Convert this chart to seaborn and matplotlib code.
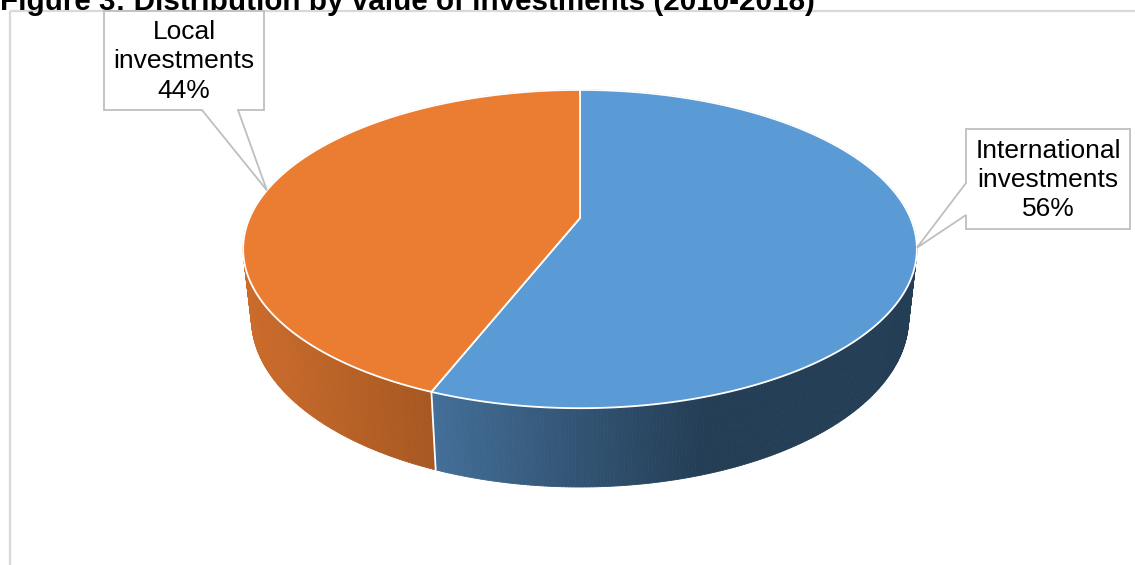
import numpy as np
import matplotlib
matplotlib.use("Agg")
import matplotlib.pyplot as plt
from matplotlib.patches import Polygon, PathPatch
from matplotlib.path import Path
from matplotlib.collections import PolyCollection
from matplotlib.colors import to_rgb
import seaborn as sns

# ---- data -------------------------------------------------------------
categories = ["International\ninvestments", "Local\ninvestments"]
shares = [56, 44]                      # percent of total investment value
face_colors = ["#5B9BD5", "#EA7D32"]
side_light = ["#44709A", "#CC6C2C"]
side_dark = ["#243E56", "#A85822"]
title = "Figure 3: Distribution by value of investments (2010-2018)"

sns.set_theme(style="white")
plt.rcParams["font.family"] = ["Liberation Sans", "DejaVu Sans"]

W, H = 1135, 565
fig = plt.figure(figsize=(W / 100, H / 100), dpi=100)
ax = fig.add_axes([0, 0, 1, 1])
ax.set_xlim(0, W)
ax.set_ylim(H, 0)
ax.axis("off")

# ---- perspective camera for the 3-D pie ---------------------------------
CX, CY = 580, 218          # screen position of the pie centre
FOCAL = 1500.0
DIST = 4.54
ELEV = np.radians(27.6)
THICK = 0.239              # slab thickness relative to radius


def project(r, phi, z):
    u = r * np.cos(phi)
    v = r * np.sin(phi)
    d = DIST + v * np.cos(ELEV) - z * np.sin(ELEV)
    x = CX + FOCAL * u / d
    y = CY - FOCAL * (v * np.sin(ELEV) + z * np.cos(ELEV)) / d
    return x, y


fracs = np.array(shares, dtype=float) / np.sum(shares)
bounds = np.pi / 2 - 2 * np.pi * np.concatenate([[0], np.cumsum(fracs)])

# side wall, drawn as thin strips from back to front
quads, qcolors, qkeys = [], [], []
for i in range(len(shares)):
    a0, a1 = bounds[i], bounds[i + 1]
    n = max(int(abs(a1 - a0) / np.radians(0.5)), 4)
    phis = np.linspace(a0, a1, n + 1)
    xt, yt = project(1.0, phis, 0.0)
    xb, yb = project(1.0, phis, -THICK)
    lo, hi = np.array(to_rgb(side_light[i])), np.array(to_rgb(side_dark[i]))
    xs_lo = {0: 425, 1: 243}[i]
    xs_hi = {0: 700, 1: 428}[i]
    for k in range(n):
        q = [(xt[k], yt[k]), (xt[k + 1], yt[k + 1]),
             (xb[k + 1], yb[k + 1]), (xb[k], yb[k])]
        xm = (xt[k] + xt[k + 1]) / 2
        t = np.clip((xm - xs_lo) / (xs_hi - xs_lo), 0, 1)
        quads.append(q)
        qcolors.append(lo + (hi - lo) * t)
        qkeys.append(np.sin((phis[k] + phis[k + 1]) / 2))

order = np.argsort(qkeys)[::-1]
pc = PolyCollection([quads[j] for j in order],
                    facecolors=[qcolors[j] for j in order],
                    edgecolors=[qcolors[j] for j in order],
                    linewidths=0.6, zorder=2)
ax.add_collection(pc)

# white seams on the front wall at slice boundaries
for b in bounds[:-1]:
    if np.sin(b) < 0:
        x0, y0 = project(1.0, b, 0.0)
        x1, y1 = project(1.0, b, -THICK)
        ax.plot([x0, x1], [y0, y1], color="white", lw=1.3, zorder=3)

# top faces
mids = []
for i in range(len(shares)):
    a0, a1 = bounds[i], bounds[i + 1]
    phis = np.linspace(a0, a1, 200)
    xt, yt = project(1.0, phis, 0.0)
    cx0, cy0 = project(0.0, 0.0, 0.0)
    verts = [(cx0, cy0)] + list(zip(xt, yt))
    ax.add_patch(Polygon(verts, closed=True, facecolor=face_colors[i],
                         edgecolor="white", lw=1.3, joinstyle="miter",
                         zorder=4))
    mids.append((a0 + a1) / 2)

# ---- callout labels -----------------------------------------------------
BOX_EDGE = "#BFBFBF"


def callout(box, base, side, tip, text):
    x0, y0, x1, y1 = box
    if side == "bottom":
        verts = [(x0, y0), (x1, y0), (x1, y1), (base[1], y1), tip,
                 (base[0], y1), (x0, y1), (x0, y0)]
    else:
        verts = [(x0, y0), (x1, y0), (x1, y1), (x0, y1), (x0, base[1]), tip,
                 (x0, base[0]), (x0, y0)]
    codes = [Path.MOVETO] + [Path.LINETO] * (len(verts) - 2) + [Path.CLOSEPOLY]
    ax.add_patch(PathPatch(Path(verts, codes), facecolor="white",
                           edgecolor=BOX_EDGE, lw=1.3, zorder=6))
    ax.text((x0 + x1) / 2, (y0 + y1) / 2 + 1, text, ha="center", va="center",
            fontsize=19, linespacing=1.27, color="black", zorder=7)


label_text = [f"{c}\n{s}%" for c, s in zip(categories, shares)]

tip_intl = project(1.0, mids[0], 0.0)
callout((966, 129, 1130, 229), (183, 215), "left", tip_intl, label_text[0])

tip_local = project(1.0, mids[1], 0.0)
callout((104, 11, 264, 110), (202, 238), "bottom", tip_local, label_text[1])

# ---- chart frame and title --------------------------------------------
FRAME = "#D9D9D9"
ax.plot([10, W], [11, 11], color=FRAME, lw=1.6, zorder=1,
        solid_capstyle="butt")
ax.plot([10, 10], [11, H], color=FRAME, lw=1.6, zorder=1,
        solid_capstyle="butt")
ax.text(0, 10, title, fontsize=21.3, fontweight="bold", ha="left",
        va="baseline", color="black", zorder=8)

fig.savefig("out.png", dpi=100)
